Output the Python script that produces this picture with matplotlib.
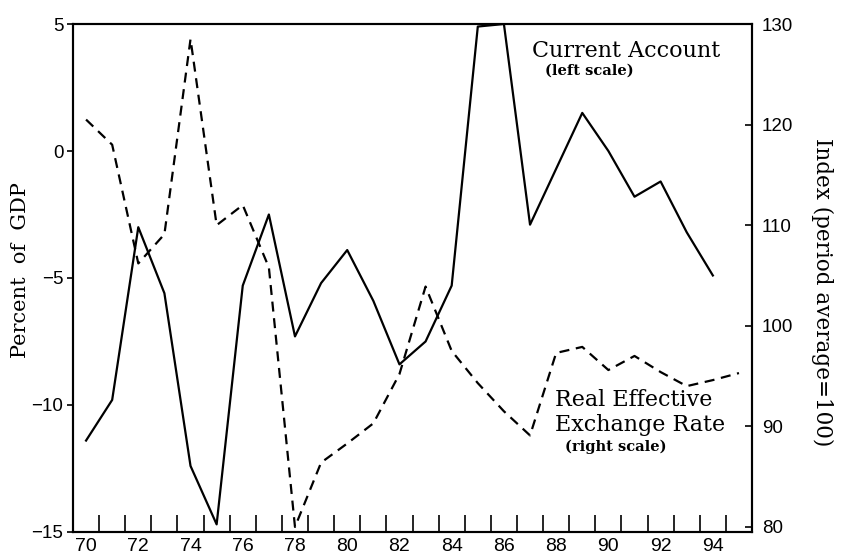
# -*- coding: utf-8 -*-

import numpy as np
import matplotlib.pyplot as plt

# current account balance, percent of GDP (left scale)
ca_years = np.arange(70, 95)
current_account = [-11.4, -9.8, -3.0, -5.6, -12.4, -14.7, -5.3, -2.5, -7.3, -5.2,
                   -3.9, -5.9, -8.4, -7.5, -5.3, 4.9, 5.0, -2.9, -0.7, 1.5,
                   0.0, -1.8, -1.2, -3.2, -4.9]

# real effective exchange rate index, period average = 100 (right scale)
reer_years = np.arange(70, 96)
reer = [120.5, 118.0, 106.2, 109.1, 128.5, 110.0, 112.0, 105.8, 80.0, 86.4,
        88.3, 90.3, 95.2, 103.9, 97.5, 94.3, 91.5, 89.1, 97.3, 97.9,
        95.6, 97.0, 95.4, 94.0, 94.6, 95.3]

year_labels = np.arange(70, 96, 2)
left_ticks = [-15, -10, -5, 0, 5]
right_ticks = [80, 90, 100, 110, 120, 130]

SERIF = 'DejaVu Serif'
SANS = 'Liberation Sans'


def create_chart():
	fig = plt.figure(figsize=(8.41, 5.57), dpi=100)
	ax = fig.add_axes([0.0868, 0.0449, 0.8074, 0.9120])
	ax2 = ax.twinx()

	ax.plot(ca_years, current_account, color='black', linewidth=1.6)
	ax2.plot(reer_years, reer, color='black', linewidth=1.6,
	         linestyle=(0, (4.5, 3)))

	ax.set_xlim(69.5, 95.5)
	ax.set_ylim(-15, 5)
	ax2.set_ylim(79.5, 129.6)

	# year labels sit on the even years, the tick marks between the years
	ax.set_xticks(year_labels)
	ax.set_xticklabels([str(y) for y in year_labels], fontfamily=SANS,
	                   fontsize=14)
	ax.set_xticks(np.arange(70.5, 95, 1), minor=True)
	ax.tick_params(axis='x', which='major', length=0, pad=4)
	ax.tick_params(axis='x', which='minor', direction='in', length=12,
	               width=1.2)

	ax.set_yticks(left_ticks)
	ax.set_yticklabels([str(v).replace('-', '\u2212') for v in left_ticks],
	                   fontfamily=SANS, fontsize=13.5)
	ax.tick_params(axis='y', direction='out', length=4, width=1.2, pad=3)

	ax2.set_yticks(right_ticks)
	ax2.set_yticklabels([str(v) for v in right_ticks], fontfamily=SANS,
	                    fontsize=13.5)
	ax2.tick_params(axis='y', direction='in', length=5, width=1.2, pad=7)

	for a in (ax, ax2):
		for s in a.spines.values():
			s.set_linewidth(1.5)

	fig.text(0.024, 0.515, 'Percent  of  GDP', rotation=90, ha='center',
	         va='center', fontfamily=SERIF, fontsize=15)
	fig.text(0.977, 0.476, 'Index (period average=100)', rotation=270,
	         ha='center', va='center', fontfamily=SERIF, fontsize=15.5)

	ax.text(0.676, 0.947, 'Current Account', transform=ax.transAxes,
	        ha='left', va='center', fontfamily=SERIF, fontsize=16)
	ax.text(0.695, 0.909, '(left scale)', transform=ax.transAxes,
	        ha='left', va='center', fontfamily=SERIF, fontsize=10.5,
	        fontweight='bold')

	ax.text(0.71, 0.26, 'Real Effective', transform=ax.transAxes,
	        ha='left', va='center', fontfamily=SERIF, fontsize=16)
	ax.text(0.71, 0.211, 'Exchange Rate', transform=ax.transAxes,
	        ha='left', va='center', fontfamily=SERIF, fontsize=16)
	ax.text(0.725, 0.168, '(right scale)', transform=ax.transAxes,
	        ha='left', va='center', fontfamily=SERIF, fontsize=10.5,
	        fontweight='bold')

	fig.savefig('out.png', dpi=100)


if __name__ == '__main__':
	create_chart()
